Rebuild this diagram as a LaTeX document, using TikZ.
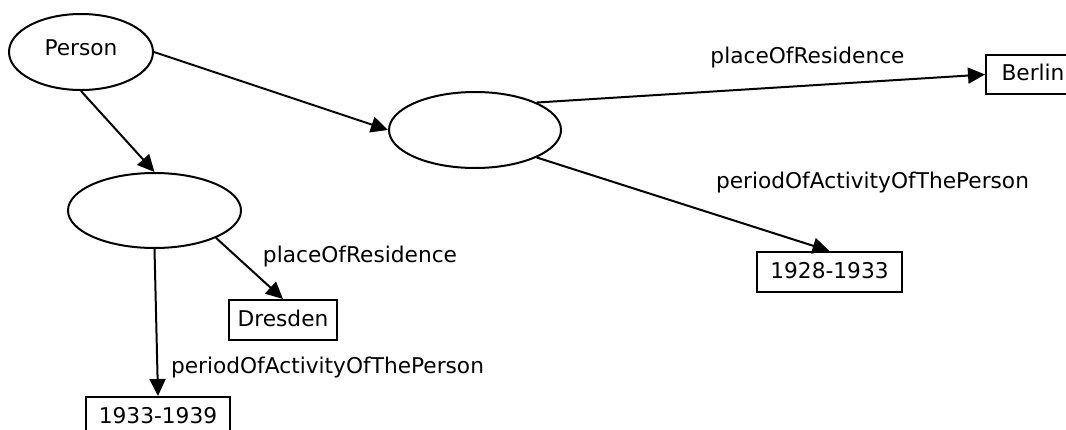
\documentclass[tikz,border=0pt]{standalone}
\usepackage{fontspec}
\setmainfont{DejaVu Sans}
\usetikzlibrary{arrows.meta,shapes.geometric}
\begin{document}
\begin{tikzpicture}[x=1pt,y=-1pt,
  every node/.style={font=\fontsize{21.7}{26}\selectfont},
  ell/.style={draw, ellipse, line width=2pt, inner sep=0pt},
  lit/.style={draw, rectangle, line width=2pt, inner sep=0pt, minimum height=40pt, text depth=4pt},
  lbl/.style={anchor=base, inner sep=0pt},
  rel/.style={line width=2pt, -{Triangle[length=17pt,width=16pt]}}]
\useasboundingbox (0,0) rectangle (1066,429);
\node[ell, minimum width=144pt, minimum height=76pt, text depth=8pt] (person) at (81,52) {Person};
\node[ell, minimum width=172pt, minimum height=76pt] (mid) at (475,130) {};
\node[ell, minimum width=173pt, minimum height=75pt] (left) at (154.5,210.5) {};
\node[lit, minimum width=94pt, minimum height=39pt] (berlin) at (1033,74.5) {Berlin};
\node[lit, minimum width=145pt] (p1928) at (829.5,272) {1928-1933};
\node[lit, minimum width=108pt] (dresden) at (283,320) {Dresden};
\node[lit, minimum width=144pt] (p1933) at (158,417) {1933-1939};
\node[lbl] (l1) at (807.5,63) {placeOfResidence};
\node[lbl] (l2) at (872.5,188) {periodOfActivityOfThePerson};
\node[lbl] (l3) at (360,262) {placeOfResidence};
\node[lbl] (l4) at (327.5,373) {periodOfActivityOfThePerson};
\draw[rel] (person.east) -- (mid.west);
\draw[rel] (person.south) -- (left.north);
\draw[rel] (mid.24) -- (berlin.west);
\draw[rel] (mid.-24) -- (p1928.north);
\draw[rel] (left.-24) -- (dresden.north);
\draw[rel] (left.south) -- (p1933.north);
\end{tikzpicture}
\end{document}
